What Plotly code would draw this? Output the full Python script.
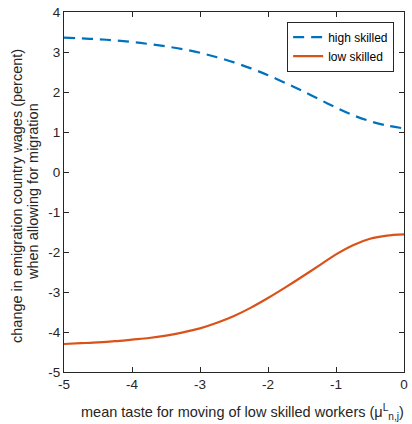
import plotly.graph_objects as go

x = [-5, -4.75, -4.5, -4.25, -4, -3.75, -3.5, -3.25, -3, -2.75, -2.5,
     -2.25, -2, -1.75, -1.5, -1.25, -1, -0.75, -0.5, -0.25, 0]
high_skilled = [3.36, 3.34, 3.32, 3.29, 3.25, 3.20, 3.14, 3.07, 2.98, 2.87, 2.74,
                2.59, 2.42, 2.23, 2.03, 1.82, 1.61, 1.42, 1.27, 1.16, 1.09]
low_skilled = [-4.30, -4.28, -4.26, -4.23, -4.19, -4.15, -4.09, -4.01, -3.91, -3.77, -3.60,
               -3.39, -3.15, -2.89, -2.62, -2.34, -2.06, -1.83, -1.67, -1.59, -1.56]

xticks = [-5, -4, -3, -2, -1, 0]
yticks = [4, 3, 2, 1, 0, -1, -2, -3, -4, -5]

fig = go.Figure()
fig.add_trace(go.Scatter(x=x, y=high_skilled, mode="lines", name="high skilled",
                         line=dict(color="#0072BD", width=2.2, dash="11px,7px", shape="spline", smoothing=0.8)))
fig.add_trace(go.Scatter(x=x, y=low_skilled, mode="lines", name="low skilled",
                         line=dict(color="#D95319", width=2.2, shape="spline", smoothing=0.8)))

axis_common = dict(showline=True, linecolor="#262626", linewidth=1, mirror="ticks",
                   ticks="inside", ticklen=5, tickcolor="#262626", showgrid=False,
                   zeroline=False, tickfont=dict(size=13.5, color="#262626"))

fig.update_xaxes(range=[-5, 0], tickvals=xticks, ticktext=[str(v) for v in xticks], **axis_common)
fig.update_yaxes(range=[-5, 4], tickvals=yticks, ticktext=[str(v) for v in yticks], **axis_common)

title_font = dict(size=14.5, color="#262626")
fig.add_annotation(text="mean taste for moving of low skilled workers (μ<sup>L</sup><sub>n,j</sub>)",
                   xref="paper", yref="paper", x=0.5, y=0, xanchor="center", yanchor="middle",
                   yshift=-40, xshift=8, showarrow=False, font=title_font)
fig.add_annotation(text="change in emigration country wages (percent)",
                   xref="paper", yref="paper", x=0, y=0.5, xanchor="center", yanchor="middle",
                   xshift=-47, yshift=-4, textangle=-90, showarrow=False, font=title_font)
fig.add_annotation(text="when allowing for migration",
                   xref="paper", yref="paper", x=0, y=0.5, xanchor="center", yanchor="middle",
                   xshift=-31, textangle=-90, showarrow=False, font=title_font)

fig.update_layout(
    width=412, height=424,
    margin=dict(l=64, r=4, t=12, b=52),
    paper_bgcolor="white", plot_bgcolor="white",
    font=dict(family="Liberation Sans, Arial, sans-serif", color="#262626"),
    legend=dict(x=0.971, y=0.973, xanchor="right", yanchor="top",
                bgcolor="white", bordercolor="#262626", borderwidth=1,
                font=dict(size=12, color="#000000"), tracegroupgap=0,
                itemwidth=30),
    showlegend=True,
)

fig.write_html("out.html")
